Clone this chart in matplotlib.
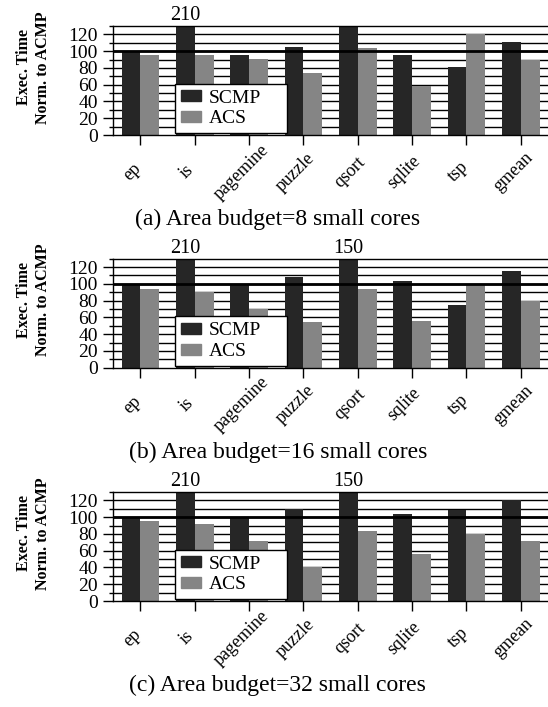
import matplotlib
matplotlib.use("Agg")
import matplotlib.pyplot as plt
import matplotlib.patches as mpatches
import matplotlib.transforms as mtransforms
import numpy as np

plt.rcParams['font.family'] = ['Liberation Serif', 'DejaVu Serif']

benchmarks = ["ep", "is", "pagemine", "puzzle", "qsort", "sqlite", "tsp", "gmean"]
series_names = ["SCMP", "ACS"]

scmp_8 = [100, 210, 96, 105, 130, 95, 81, 111]
acs_8 = [95, 96, 91, 74, 104, 59, 121, 89]

scmp_16 = [100, 210, 100, 108, 150, 104, 75, 115]
acs_16 = [94, 90, 70, 55, 94, 56, 99, 80]

scmp_32 = [100, 210, 100, 110, 150, 104, 108, 121]
acs_32 = [95, 92, 71, 41, 84, 56, 80, 72]

captions = ["(a) Area budget=8 small cores",
            "(b) Area budget=16 small cores",
            "(c) Area budget=32 small cores"]

panels = [(scmp_8, acs_8), (scmp_16, acs_16), (scmp_32, acs_32)]

DARK = "#262626"
GRAY = "#858585"
YMAX = 130

fig = plt.figure(figsize=(5.48, 7.07), dpi=100)
W, H = 548.0, 707.0
left = 113.3 / W
width = 1.0 - left
zero_px = [135.0, 367.7, 601.0]
h = 109.0 / H

for k, ((scmp, acs), cap) in enumerate(zip(panels, captions)):
    bottom = 1 - zero_px[k] / H
    ax = fig.add_axes([left, bottom, width, h])
    x = np.arange(len(benchmarks))
    w = 0.345
    ax.bar(x - w / 2, scmp, w, color=DARK, zorder=2, linewidth=0)
    ax.bar(x + w / 2, acs, w, color=GRAY, zorder=2, linewidth=0)
    for i, v in enumerate(scmp):
        if v > YMAX:
            ax.text(i - w / 2, YMAX + 0.8, str(v), ha='center', va='bottom',
                    fontsize=14.5, clip_on=False)
    ax.set_xlim(-0.5, 7.5)
    ax.set_ylim(0, YMAX)
    ax.set_yticks(np.arange(0, 121, 20))
    ax.set_yticks(np.arange(10, 131, 20), minor=True)
    for yv in np.arange(10, 130, 10):
        ax.axhline(yv, color='black', lw=1.0, zorder=1)
    ax.axhline(100, color='black', lw=2.0, zorder=3)
    ax.tick_params(axis='y', which='major', length=7, width=1, direction='out',
                   labelsize=14, pad=4)
    ax.tick_params(axis='y', which='minor', length=3, width=1, direction='out')
    ax.set_xticks(x)
    ax.tick_params(axis='x', length=7, width=1, direction='out', pad=19.6)
    ax.set_xticklabels(benchmarks, rotation=45, ha='center', va='center',
                       rotation_mode='anchor', fontsize=13)
    shift = mtransforms.ScaledTranslation(-8 / 100, 0, fig.dpi_scale_trans)
    for lab in ax.get_xticklabels():
        lab.set_transform(lab.get_transform() + shift)
    for s in ['left', 'top', 'bottom']:
        ax.spines[s].set_linewidth(1.0)
        ax.spines[s].set_color('black')
    ax.spines['right'].set_visible(False)
    ax.text(-0.183, 0.62, "Exec. Time\nNorm. to ACMP", transform=ax.transAxes,
            rotation=90, ha='center', va='center', fontsize=11.5,
            fontweight='bold', linespacing=1.25)
    handles = [mpatches.Patch(color=DARK, label=series_names[0]),
               mpatches.Patch(color=GRAY, label=series_names[1])]
    leg = ax.legend(handles=handles, loc='lower left',
                    bbox_to_anchor=(0.1425, 0.016, 0.2575, 0.44), mode='expand',
                    fontsize=14, fancybox=False, framealpha=1, edgecolor='black',
                    borderpad=0.3, handlelength=1.05, handleheight=0.5,
                    labelspacing=0.2, handletextpad=0.36, borderaxespad=0)
    leg.get_frame().set_linewidth(1.0)
    leg.set_zorder(5)
    fig.text(0.507, 1 - (zero_px[k] + 84.5) / H, cap, ha='center', va='center',
             fontsize=17)

fig.savefig("out.png", dpi=100)
